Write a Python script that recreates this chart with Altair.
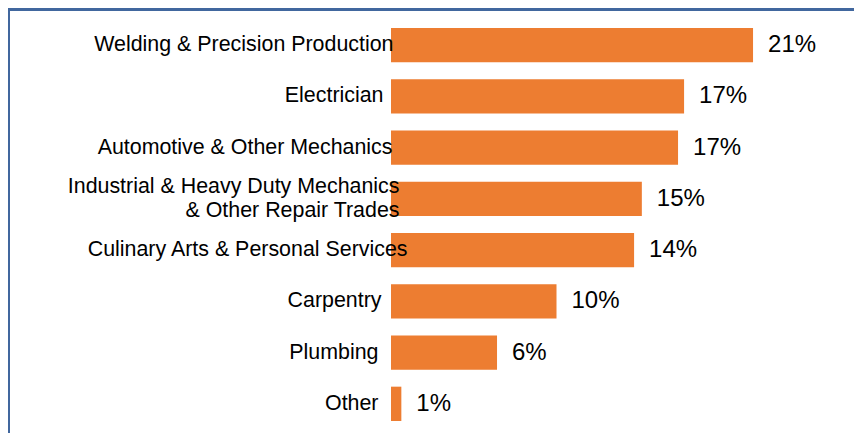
import altair as alt
import pandas as pd

categories = [
    "Welding & Precision Production",
    "Electrician",
    "Automotive & Other Mechanics",
    "Industrial & Heavy Duty Mechanics|& Other Repair Trades",
    "Culinary Arts & Personal Services",
    "Carpentry",
    "Plumbing",
    "Other",
]
values = [21.0, 17.0, 16.65, 14.55, 14.1, 9.6, 6.15, 0.6]
labels = ["21%", "17%", "17%", "15%", "14%", "10%", "6%", "1%"]

df = pd.DataFrame({"category": categories, "value": values, "label": labels})

FONT = "Liberation Sans"
ORANGE = "#ED7D31"
FRAME = "#41679E"

W, H = 431, 393

# label padding per label, mimicking the original label placement
pad_cond = [
    {"test": "datum.value == 'Welding & Precision Production'", "value": -2},
    {"test": "datum.value == 'Automotive & Other Mechanics'", "value": -1},
    {"test": "indexof(datum.value, '|') >= 0", "value": -8},
    {"test": "datum.value == 'Culinary Arts & Personal Services'", "value": -16},
    {"test": "datum.value == 'Carpentry'", "value": 10},
    {"test": "datum.value == 'Plumbing' || datum.value == 'Other'", "value": 13},
]

y_enc = alt.Y(
    "category:N",
    sort=categories,
    scale=alt.Scale(paddingInner=0.33, paddingOuter=0),
    axis=alt.Axis(
        title=None,
        domain=False,
        ticks=False,
        grid=False,
        zindex=1,
        labelPadding={"condition": pad_cond, "value": 8},
        labelOffset={"condition": {"test": "indexof(datum.value, '|') >= 0", "value": -12}, "value": 0},
        labelFontSize=21.4,
        labelFont=FONT,
        labelColor="#000000",
        labelLimit=0,
        labelLineHeight=24,
        labelExpr="split(datum.label, '|')",
    ),
)
x_enc = alt.X(
    "value:Q",
    scale=alt.Scale(domain=[0, 25], nice=False),
    axis=None,
)

bars = alt.Chart(df).mark_bar(color=ORANGE).encode(x=x_enc, y=y_enc)

texts = alt.Chart(df).mark_text(
    align="left", baseline="middle", dx=15, fontSize=24, font=FONT, color="#000000"
).encode(x=x_enc, y=alt.Y("category:N", sort=categories), text="label:N")

left_line = alt.Chart(alt.Data(values=[{}])).mark_rule(
    color=FRAME, strokeWidth=3
).encode(x=alt.value(-382.5), y=alt.value(-19.5), y2=alt.value(H + 20))

top_line = alt.Chart(alt.Data(values=[{}])).mark_rule(
    color=FRAME, strokeWidth=3
).encode(x=alt.value(-384), x2=alt.value(W + 40), y=alt.value(-18.5))

chart = (
    alt.layer(bars, texts, left_line, top_line)
    .properties(
        width=W,
        height=H,
        padding={"left": 383, "top": 20, "right": 32, "bottom": 12},
        autosize=alt.AutoSizeParams(type="none"),
        background="#ffffff",
    )
    .configure_view(strokeWidth=0)
)

chart.save("out.html", embed_options={"renderer": "svg", "actions": False})
